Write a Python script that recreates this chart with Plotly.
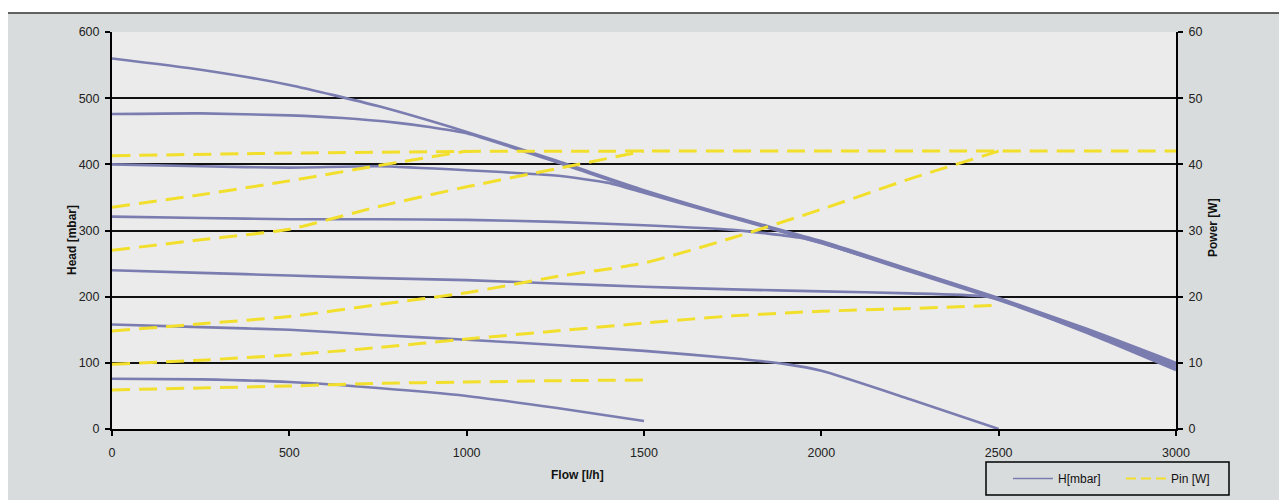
import plotly.graph_objects as go

# ---------------- data ----------------
x_ticks = [0, 500, 1000, 1500, 2000, 2500, 3000]
head_ticks = [0, 100, 200, 300, 400, 500, 600]
power_ticks = [0, 10, 20, 30, 40, 50, 60]

# Head curves (mbar) vs flow (l/h)
flow_h1 = [0, 250, 500, 750, 1000, 1250, 1500, 1750, 2000, 2250, 2500, 2750, 3000]
head_h1 = [560, 543, 520, 488, 449, 406, 361, 321, 284, 241, 198, 151, 100]

flow_h2 = [0, 250, 500, 650, 800, 900, 1000, 1250, 1500, 1750, 2000, 2250, 2500, 2750, 3000]
head_h2 = [476, 477, 474, 470, 463, 456, 447, 404, 359, 320, 282, 240, 197, 149, 97]

flow_h3 = [0, 250, 500, 750, 1000, 1250, 1400, 1500, 1750, 2000, 2250, 2500, 2750, 3000]
head_h3 = [400, 397, 395, 397, 391, 383, 372, 357, 319, 281, 239, 196, 147, 94]

flow_h4 = [0, 250, 500, 750, 1000, 1250, 1500, 1750, 1940, 2000, 2250, 2500, 2750, 3000]
head_h4 = [321, 319, 317, 317, 316, 313, 308, 301, 289, 281, 238, 195, 146, 91]

flow_h5 = [0, 250, 500, 750, 1000, 1250, 1500, 1750, 2000, 2250, 2450, 2500, 2750, 3000]
head_h5 = [240, 236, 232, 228, 225, 220, 215, 211, 208, 205, 201, 196, 145, 89]

flow_h6 = [0, 250, 500, 750, 1000, 1250, 1500, 1750, 1900, 2000, 2250, 2500]
head_h6 = [158, 154, 150, 142, 135, 127, 118, 107, 98, 88, 45, 0]

flow_h7 = [0, 250, 500, 750, 1000, 1250, 1500]
head_h7 = [76, 75, 71, 62, 50, 32, 12]

# Input power curves (W) vs flow (l/h)
flow_p1 = [0, 500, 1000, 1500, 2000, 2500, 3000]
pin_p1 = [41.3, 41.7, 41.95, 42.0, 42.0, 42.0, 42.0]

flow_p2 = [0, 250, 500, 750, 1000]
pin_p2 = [33.5, 35.4, 37.5, 39.8, 42.0]

flow_p3 = [0, 250, 500, 750, 1000, 1250, 1500]
pin_p3 = [27.0, 28.6, 30.2, 33.6, 36.6, 39.3, 42.0]

flow_p4 = [0, 250, 500, 750, 1000, 1250, 1500, 1750, 2000, 2250, 2500]
pin_p4 = [14.8, 15.9, 17.0, 18.8, 20.6, 23.0, 25.1, 28.9, 33.2, 37.8, 42.0]

flow_p5 = [0, 250, 500, 750, 1000, 1250, 1500, 1750, 2000, 2250, 2500]
pin_p5 = [9.8, 10.4, 11.2, 12.3, 13.6, 14.8, 16.0, 17.1, 17.8, 18.2, 18.7]

flow_p6 = [0, 250, 500, 750, 1000, 1250, 1500]
pin_p6 = [5.9, 6.2, 6.5, 6.9, 7.1, 7.3, 7.4]

head_curves = [(flow_h1, head_h1), (flow_h2, head_h2), (flow_h3, head_h3),
               (flow_h4, head_h4), (flow_h5, head_h5), (flow_h6, head_h6),
               (flow_h7, head_h7)]
power_curves = [(flow_p1, pin_p1), (flow_p2, pin_p2), (flow_p3, pin_p3),
                (flow_p4, pin_p4), (flow_p5, pin_p5), (flow_p6, pin_p6)]

# ---------------- layout helpers ----------------
W, H = 1287, 500
OFF = 8  # page body margin in the browser
L, R, T, B = 112 - OFF, 1176 - OFF, 32 - OFF, 429 - OFF


def px_x(p):
    return (p - OFF - L) / (R - L)


def px_y(p):
    return (B - (p - OFF)) / (B - T)


H_COLOR = "#7B7DB0"
P_COLOR = "#F2DF2C"
FONT = "Liberation Sans, Arial, sans-serif"

fig = go.Figure()

for fx, hy in head_curves:
    fig.add_trace(go.Scatter(
        x=fx, y=hy, mode="lines", yaxis="y",
        line=dict(color=H_COLOR, width=2.6, shape="spline", smoothing=0.6),
        showlegend=False, hoverinfo="skip"))

for fx, py in power_curves:
    fig.add_trace(go.Scatter(
        x=fx, y=py, mode="lines", yaxis="y2",
        line=dict(color=P_COLOR, width=3, dash="18px,9px",
                  shape="spline", smoothing=0.6),
        showlegend=False, hoverinfo="skip"))

# legend entries
fig.add_trace(go.Scatter(x=[None], y=[None], mode="lines", name="H[mbar]",
                         line=dict(color=H_COLOR, width=1.5)))
fig.add_trace(go.Scatter(x=[None], y=[None], mode="lines", name="Pin [W]",
                         yaxis="y2",
                         line=dict(color=P_COLOR, width=2, dash="10px,5px")))

shapes = [
    # white strips outside the chart frame
    dict(type="rect", xref="paper", yref="paper", layer="below",
         x0=px_x(-20), x1=px_x(1310), y0=px_y(-20), y1=px_y(13),
         fillcolor="white", line=dict(width=0)),
    dict(type="rect", xref="paper", yref="paper", layer="below",
         x0=px_x(-20), x1=px_x(7), y0=px_y(-20), y1=px_y(520),
         fillcolor="white", line=dict(width=0)),
    # chart frame
    dict(type="rect", xref="paper", yref="paper",
         x0=px_x(7), x1=px_x(1310), y0=px_y(13), y1=px_y(520),
         fillcolor="rgba(0,0,0,0)", line=dict(color="#333333", width=1.5)),
    # legend box
    dict(type="rect", xref="paper", yref="paper",
         x0=px_x(986), x1=px_x(1229), y0=px_y(462), y1=px_y(495),
         fillcolor="rgba(0,0,0,0)", line=dict(color="black", width=1.5)),
]

annotations = [
    dict(text="<b>Flow [l/h]</b>", xref="paper", yref="paper",
         x=px_x(577), y=px_y(475), showarrow=False,
         xanchor="center", yanchor="middle", font=dict(size=12, color="#111")),
    dict(text="<b>Head [mbar]</b>", xref="paper", yref="paper",
         x=px_x(72), y=px_y(240), showarrow=False, textangle=-90,
         xanchor="center", yanchor="middle", font=dict(size=12, color="#111")),
    dict(text="<b>Power [W]</b>", xref="paper", yref="paper",
         x=px_x(1213), y=px_y(228), showarrow=False, textangle=-90,
         xanchor="center", yanchor="middle", font=dict(size=12, color="#111")),
]

tick_font = dict(family=FONT, size=12.5, color="#222222")

fig.update_layout(
    width=W, height=H,
    margin=dict(l=L, r=W - R, t=T, b=H - B, autoexpand=False),
    paper_bgcolor="#D9DCDC", plot_bgcolor="#EBEBEB",
    font=dict(family=FONT, size=12, color="#222222"),
    xaxis=dict(range=[0, 3000], tickvals=x_ticks, ticks="outside", ticklen=5,
               tickwidth=1.5, tickcolor="black", showline=True,
               linecolor="black", linewidth=2, showgrid=False, zeroline=False,
               ticklabelstandoff=6, tickfont=tick_font, fixedrange=True),
    yaxis=dict(range=[0, 600], tickvals=head_ticks, ticks="outside", ticklen=5,
               tickwidth=1.5, tickcolor="black", showline=True,
               linecolor="black", linewidth=2, showgrid=True,
               gridcolor="#111111", gridwidth=1.5, zeroline=False,
               ticklabelstandoff=3, tickfont=tick_font, fixedrange=True),
    yaxis2=dict(range=[0, 60], tickvals=power_ticks, overlaying="y",
                side="right", ticks="outside", ticklen=5, tickwidth=1.5,
                tickcolor="black", showline=True, linecolor="black",
                linewidth=2, showgrid=False, zeroline=False,
                ticklabelstandoff=3, tickfont=tick_font, fixedrange=True),
    legend=dict(orientation="h", x=px_x(1008), y=px_y(464),
                xanchor="left", yanchor="top", bgcolor="rgba(0,0,0,0)",
                borderwidth=0, font=dict(size=12, color="#111"),
                itemwidth=40, tracegroupgap=0,
                entrywidth=58, entrywidthmode="pixels"),
    shapes=shapes,
    annotations=annotations,
    showlegend=True,
)

fig.write_html("out.html")
